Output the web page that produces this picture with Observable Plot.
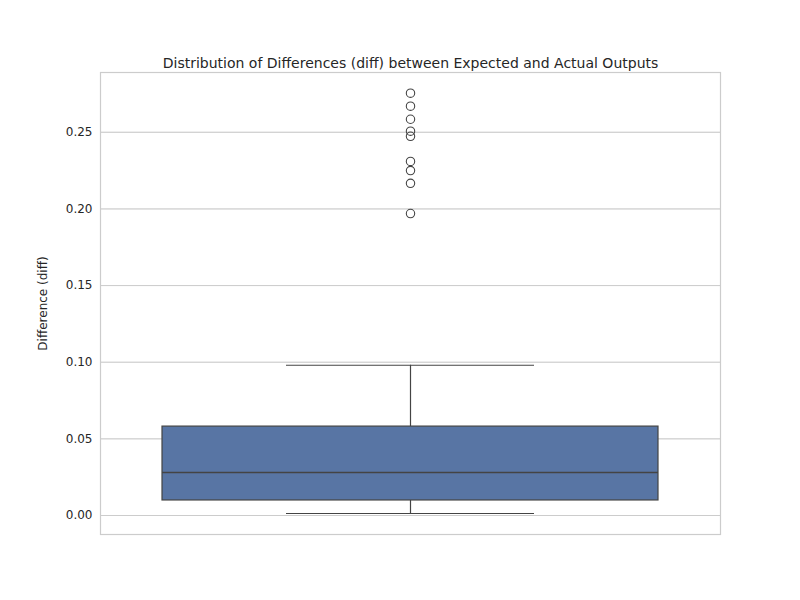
<!DOCTYPE html>
<html><head><meta charset="utf-8">
<script src="https://cdn.jsdelivr.net/npm/d3@7"></script>
<script src="https://cdn.jsdelivr.net/npm/@observablehq/plot@0.6"></script>
<style>body{margin:0;background:#fff}</style>
</head><body><div id="chart"></div>
<script>
// box statistics
const q1 = 0.0098, median = 0.028, q3 = 0.058
const whiskerLow = 0.0013, whiskerHigh = 0.098
const outliers = [0.2755, 0.267, 0.2585, 0.2507, 0.2474, 0.231, 0.225, 0.2167, 0.197]
const yTicks = [0, 0.05, 0.10, 0.15, 0.20, 0.25]

const box = [{x1: 0.1, x2: 0.9, y1: q1, y2: q3}]

let chart = Plot.plot({
    width: 800,
    height: 600,
    marginTop: 72,
    marginBottom: 66,
    marginLeft: 100,
    marginRight: 80,
    style: {fontFamily: "DejaVu Sans", fontSize: "12px", color: "#262626"},
    x: {domain: [0, 1], axis: null},
    y: {
        domain: [-0.0124, 0.289],
        ticks: yTicks,
        tickFormat: d3.format(".2f"),
        tickSize: 0,
        tickPadding: 8,
        label: "Difference (diff)",
        labelAnchor: "center",
        labelArrow: "none",
        labelOffset: 62,
        grid: true
    },
    marks: [
        Plot.gridY(yTicks, {stroke: "#cccccc", strokeOpacity: 1, strokeWidth: 1}),
        Plot.ruleX([0.5], {y1: whiskerLow, y2: q1, stroke: "#444", strokeWidth: 1.2}),
        Plot.ruleX([0.5], {y1: q3, y2: whiskerHigh, stroke: "#444", strokeWidth: 1.2}),
        Plot.ruleY([whiskerLow, whiskerHigh], {x1: 0.3, x2: 0.7, stroke: "#444", strokeWidth: 1.2}),
        Plot.rect(box, {x1: "x1", x2: "x2", y1: "y1", y2: "y2", fill: "#5875a4", stroke: "#444", strokeWidth: 1.2}),
        Plot.ruleY([median], {x1: 0.1, x2: 0.9, stroke: "#444", strokeWidth: 1.5}),
        Plot.dot(outliers, {x: () => 0.5, y: d => d, r: 4.2, stroke: "#444", fill: "none", strokeWidth: 1.1}),
        Plot.frame({stroke: "#cccccc", strokeWidth: 1.2}),
        Plot.text(["Distribution of Differences (diff) between Expected and Actual Outputs"],
            {frameAnchor: "top", dy: -14, fontSize: 14, fill: "#262626"})
    ]
})

d3.select('#chart').append(() => chart)
</script></body></html>
